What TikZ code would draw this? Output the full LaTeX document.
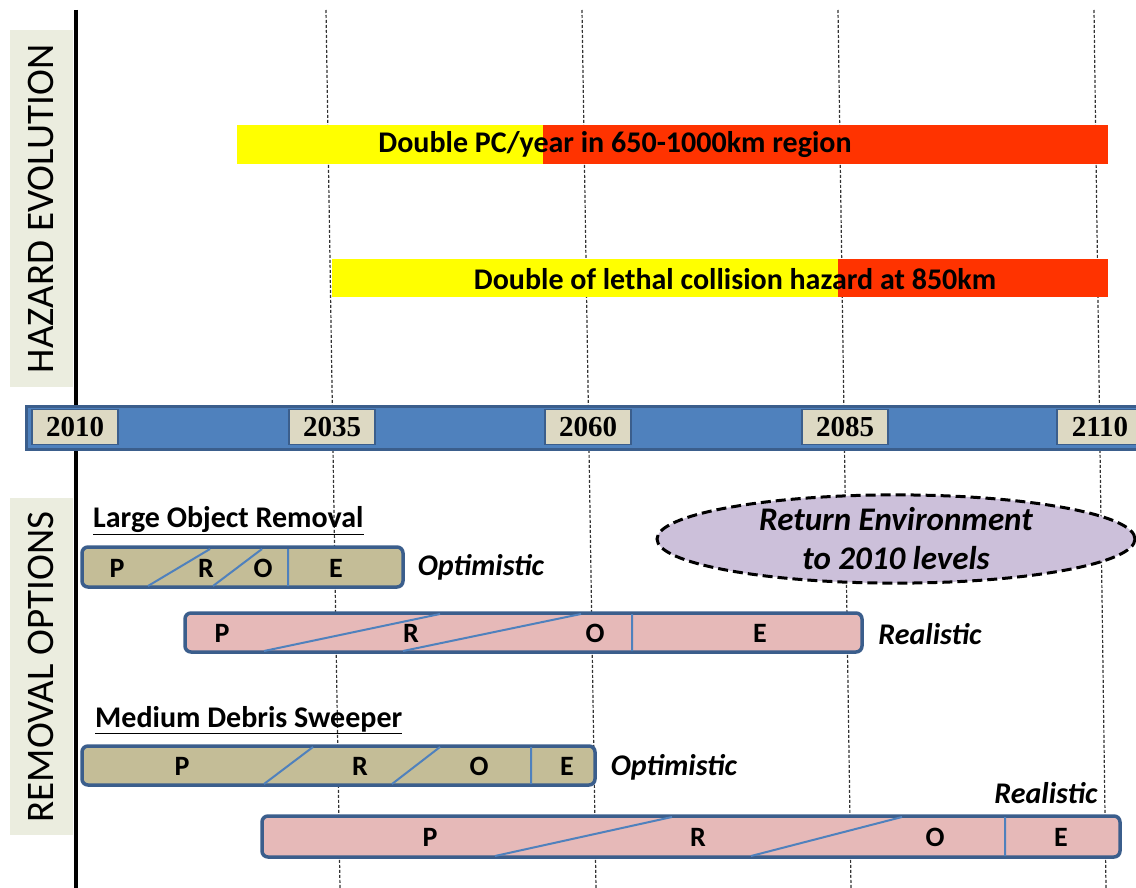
\documentclass[tikz,border=0pt]{standalone}
\usepackage{fontspec}
\setmainfont{Carlito}
\newfontfamily\yearfont{Liberation Serif}
\usetikzlibrary{shapes.geometric}
\definecolor{barblue}{HTML}{4F81BD}
\definecolor{edgeblue}{HTML}{3B5E8C}
\definecolor{yearbg}{HTML}{DDD9C3}
\definecolor{labelbg}{HTML}{EBEDDF}
\definecolor{hazyel}{HTML}{FFFF00}
\definecolor{hazred}{HTML}{FF3300}
\definecolor{optbg}{HTML}{C4BD97}
\definecolor{realbg}{HTML}{E6B9B8}
\definecolor{goalbg}{HTML}{CCC0DA}

\begin{document}
\begin{tikzpicture}[x=1pt,y=-1pt,
  grid/.style={dash pattern=on 3pt off 2pt, black!80, line width=1.2pt},
  phase/.style={rounded corners=6pt, draw=edgeblue, line width=3.5pt},
  split/.style={barblue, line width=2pt},
  yearbox/.style={draw=edgeblue, line width=1.5pt, fill=yearbg, minimum width=86pt,
    minimum height=35pt, inner sep=0pt, font=\yearfont\bfseries\fontsize{29}{29}\selectfont},
  hazard/.style={font=\bfseries\fontsize{30}{34}\selectfont},
  letter/.style={font=\bfseries\fontsize{28}{30}\selectfont},
  case/.style={font=\bfseries\itshape\fontsize{30}{34}\selectfont},
  title/.style={font=\bfseries\fontsize{30}{34}\selectfont, anchor=west, inner sep=0pt},
  side/.style={rotate=90, font=\fontsize{39}{42}\selectfont}]
\useasboundingbox (0,0) rectangle (1136,888);
% side labels
\fill[labelbg] (10,30) rectangle (73,387);
\node[side] (hzlab) at (41,209) {HAZARD EVOLUTION};
\fill[labelbg] (10,498) rectangle (73,835);
\node[side] (rmlab) at (41,667) {REMOVAL OPTIONS};
\draw[line width=4pt] (76,10) -- (76,888);
% year grid
\foreach \xt/\xb in {326/340, 582/596, 838/851, 1094/1106}
  \draw[grid] (\xt,10) -- (\xb,888);
% hazards
\fill[hazyel] (237,125) rectangle (543,164);
\fill[hazred] (543,125) rectangle (1108,164);
\node[hazard] (pc) at (615,145) {Double PC/year in 650-1000km region};
\fill[hazyel] (332,259) rectangle (838,297);
\fill[hazred] (838,259) rectangle (1108,297);
\node[hazard] (lethal) at (735,279) {Double of lethal collision hazard at 850km};
% timeline
\draw[fill=barblue, draw=edgeblue, line width=3pt] (26,406) rectangle (1142,449);
\foreach \yr/\x in {2010/75, 2035/332, 2060/588, 2085/845, 2110/1100}
  \node[yearbox] (y\yr) at (\x,427) {\yr};
% return goal
\node[ellipse, draw, line width=3pt, dash pattern=on 10pt off 5pt, fill=goalbg,
  minimum width=478pt, minimum height=86pt, align=center, inner sep=0pt,
  font=\bfseries\itshape\fontsize{33}{39}\selectfont] (goal) at (896,539)
  {Return Environment\\to 2010 levels};
% large object removal
\node[title] (lor) at (93,521) {\underline{Large Object Removal}};
\draw[phase, fill=optbg] (82,547) rectangle (403,587);
\draw[split] (148,586) -- (210,549) (213,586) -- (262,549) (288,549) -- (288,586);
\node[letter] (lp1) at (117,568) {P};
\node[letter] (lr1) at (206,568) {R};
\node[letter] (lo1) at (263,568) {O};
\node[letter] (le1) at (336,568) {E};
\node[case] (opt1) at (481,567) {Optimistic};
\draw[phase, fill=realbg] (185,613) rectangle (862,652);
\draw[split] (264,651) -- (440,614) (403,651) -- (581,614) (632,614) -- (632,651);
\node[letter] (lp2) at (222,633) {P};
\node[letter] (lr2) at (411,633) {R};
\node[letter] (lo2) at (595,633) {O};
\node[letter] (le2) at (760,633) {E};
\node[case] (real1) at (930,634) {Realistic};
% medium debris sweeper
\node[title] (mds) at (95,720) {\underline{Medium Debris Sweeper}};
\draw[phase, fill=optbg] (82,746) rectangle (595,785);
\draw[split] (264,784) -- (313,747) (392,784) -- (440,747) (531,747) -- (531,784);
\node[letter] (lp3) at (182,766) {P};
\node[letter] (lr3) at (360,766) {R};
\node[letter] (lo3) at (479,766) {O};
\node[letter] (le3) at (567,766) {E};
\node[case] (opt2) at (674,767) {Optimistic};
\draw[phase, fill=realbg] (262,816) rectangle (1120,857);
\draw[split] (495,856) -- (672,817) (751,856) -- (902,817) (1005,817) -- (1005,856);
\node[letter] (lp4) at (430,837) {P};
\node[letter] (lr4) at (698,837) {R};
\node[letter] (lo4) at (935,837) {O};
\node[letter] (le4) at (1061,837) {E};
\node[case] (real2) at (1046,793) {Realistic};
\end{tikzpicture}
\end{document}
